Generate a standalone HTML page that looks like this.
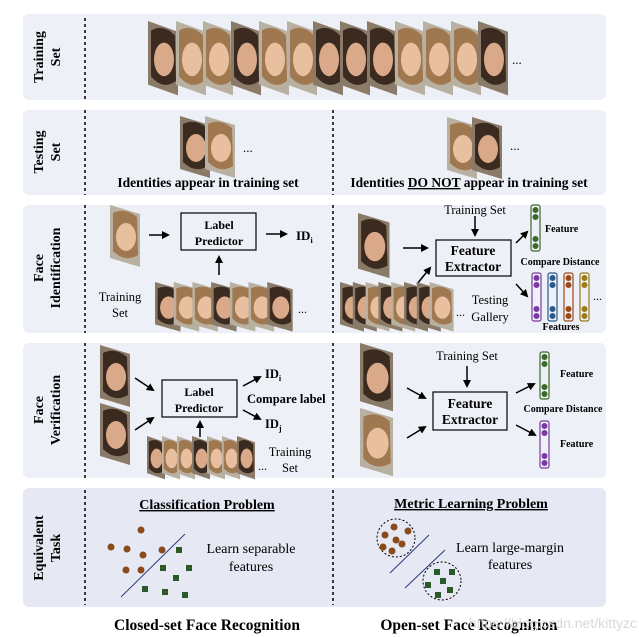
<!DOCTYPE html>
<html><head><meta charset="utf-8"><style>
body{margin:0;background:#fff}
svg{display:block;font-family:"Liberation Serif",serif}
.b{font-weight:bold}
</style></head><body>
<svg width="639" height="637" viewBox="0 0 639 637" xmlns="http://www.w3.org/2000/svg">
<defs>
<g id="f">
<polygon points="0,0 30,9 30,62 0,53" fill="#8a7a68"/>
<path d="M3,8 Q15,2 27,12 L28,50 Q15,58 3,46 Z" fill="#3a2a20"/>
<ellipse cx="16" cy="32" rx="10" ry="14" fill="#d9a98a"/>
</g>
<g id="g">
<polygon points="0,0 30,9 30,62 0,53" fill="#b8b0a0"/>
<path d="M3,8 Q15,2 27,12 L28,50 Q15,58 3,46 Z" fill="#a07850"/>
<ellipse cx="16" cy="32" rx="10" ry="14" fill="#e8c0a0"/>
</g>
<marker id="a" markerWidth="8" markerHeight="8" refX="6" refY="4" orient="auto" markerUnits="userSpaceOnUse"><path d="M0,0 L8,4 L0,8 Z" fill="#000"/></marker>
</defs>
<g fill="#eef0f7">
<rect x="23" y="14" width="583" height="86" rx="6"/>
<rect x="23" y="110" width="583" height="85" rx="6"/>
<rect x="23" y="205" width="583" height="128" rx="6"/>
<rect x="23" y="343" width="583" height="135" rx="6"/>
<rect x="23" y="488" width="583" height="119" rx="6" fill="#e6e9f3"/>
</g>
<g stroke="#000" stroke-width="1.5" stroke-dasharray="3,3">
<line x1="85" y1="18" x2="85" y2="100"/><line x1="85" y1="110" x2="85" y2="195"/><line x1="85" y1="205" x2="85" y2="333"/><line x1="85" y1="343" x2="85" y2="478"/><line x1="85" y1="490" x2="85" y2="605"/>
<line x1="333" y1="110" x2="333" y2="195"/><line x1="333" y1="205" x2="333" y2="333"/><line x1="333" y1="343" x2="333" y2="478"/><line x1="333" y1="490" x2="333" y2="605"/>
</g>
<g class="b" font-size="14" text-anchor="middle">
<text transform="translate(43,57) rotate(-90)">Training</text><text transform="translate(60,57) rotate(-90)">Set</text>
<text transform="translate(43,152) rotate(-90)">Testing</text><text transform="translate(60,152) rotate(-90)">Set</text>
<text transform="translate(43,268) rotate(-90)">Face</text><text transform="translate(60,268) rotate(-90)">Identification</text>
<text transform="translate(43,410) rotate(-90)">Face</text><text transform="translate(60,410) rotate(-90)">Verification</text>
<text transform="translate(43,548) rotate(-90)">Equivalent</text><text transform="translate(60,548) rotate(-90)">Task</text>
</g>
<g transform="translate(0,21) scale(1,1.2)">
<use href="#f" x="148"/><use href="#g" x="176"/><use href="#g" x="203"/><use href="#f" x="231"/><use href="#g" x="259"/><use href="#g" x="287"/><use href="#f" x="313"/><use href="#f" x="340"/><use href="#f" x="367"/><use href="#g" x="395"/><use href="#g" x="423"/><use href="#g" x="451"/><use href="#f" x="478"/>
</g>
<text x="512" y="64" font-size="13">...</text>
<use href="#f" x="180" y="116"/><use href="#g" x="205" y="116"/>
<text x="243" y="152" font-size="13">...</text>
<use href="#g" x="447" y="117"/><use href="#f" x="472" y="117"/>
<text x="510" y="150" font-size="13">...</text>
<g class="b" font-size="13.5" text-anchor="middle">
<text x="208" y="187">Identities appear in training set</text>
<text x="469" y="187">Identities <tspan text-decoration="underline">DO NOT</tspan> appear in training set</text>
</g>
<use href="#g" x="110" y="205"/>
<g stroke="#000" stroke-width="1.5" marker-end="url(#a)" fill="none">
<line x1="149" y1="235" x2="168" y2="235"/><line x1="266" y1="234" x2="286" y2="234"/><line x1="219" y1="275" x2="219" y2="257"/>
<line x1="403" y1="248" x2="427" y2="248"/><line x1="475" y1="216" x2="475" y2="235"/><line x1="417" y1="284" x2="430" y2="268"/>
<line x1="516" y1="243" x2="527" y2="232"/><line x1="516" y1="284" x2="527" y2="296"/>
<line x1="135" y1="378" x2="153" y2="390"/><line x1="135" y1="430" x2="153" y2="418"/>
<line x1="243" y1="386" x2="260" y2="377"/><line x1="243" y1="410" x2="260" y2="419"/><line x1="200" y1="437" x2="200" y2="422"/>
<line x1="407" y1="388" x2="425" y2="398"/><line x1="407" y1="438" x2="425" y2="427"/><line x1="467" y1="366" x2="467" y2="386"/>
<line x1="516" y1="393" x2="534" y2="384"/><line x1="516" y1="425" x2="535" y2="435"/>
</g>
<rect x="181" y="213" width="75" height="37" fill="none" stroke="#000" stroke-width="1.2"/>
<g class="b" font-size="12" text-anchor="middle"><text x="219" y="229">Label</text><text x="219" y="245">Predictor</text></g>
<text x="296" y="240" class="b" font-size="13">ID<tspan font-size="8" dy="3">i</tspan></text>
<g font-size="12.5" text-anchor="middle"><text x="120" y="301">Training</text><text x="120" y="317">Set</text></g>
<g transform="translate(155,282) scale(0.85,0.8)"><use href="#f" x="0"/><use href="#g" x="22"/><use href="#g" x="44"/><use href="#f" x="66"/><use href="#g" x="88"/><use href="#g" x="110"/><use href="#f" x="132"/></g>
<text x="298" y="313" font-size="12">...</text>
<g transform="translate(358,213) scale(1.05,1.05)"><use href="#f"/></g>
<rect x="436" y="240" width="75" height="36" fill="none" stroke="#000" stroke-width="1.2"/>
<g class="b" font-size="13.5" text-anchor="middle"><text x="473" y="255">Feature</text><text x="473" y="271">Extractor</text></g>
<text x="475" y="214" font-size="12.5" text-anchor="middle">Training Set</text>
<g transform="translate(340,282) scale(0.8,0.8)"><use href="#f" x="0"/><use href="#f" x="16"/><use href="#g" x="32"/><use href="#f" x="48"/><use href="#g" x="64"/><use href="#f" x="80"/><use href="#f" x="96"/><use href="#g" x="112"/></g>
<text x="456" y="316" font-size="12">...</text>
<g font-size="12.5" text-anchor="middle"><text x="490" y="304">Testing</text><text x="490" y="321">Gallery</text></g>
<g stroke-width="1.2">
<rect x="531" y="205" width="9" height="46" rx="2" fill="none" stroke="#3a6a2a"/>
<rect x="532" y="273" width="9" height="48" rx="2" fill="none" stroke="#7a3aa0"/>
<rect x="548" y="273" width="9" height="48" rx="2" fill="none" stroke="#2a5a8a"/>
<rect x="564" y="273" width="9" height="48" rx="2" fill="none" stroke="#9a4a1a"/>
<rect x="580" y="273" width="9" height="48" rx="2" fill="none" stroke="#9a7a1a"/>
</g>
<g fill="#3a6a2a"><circle cx="535.5" cy="210" r="3"/><circle cx="535.5" cy="217" r="3"/><circle cx="535.5" cy="239" r="3"/><circle cx="535.5" cy="246" r="3"/></g>
<g fill="#7a3aa0"><circle cx="536.5" cy="278" r="3"/><circle cx="536.5" cy="285" r="3"/><circle cx="536.5" cy="309" r="3"/><circle cx="536.5" cy="316" r="3"/></g>
<g fill="#2a5a8a"><circle cx="552.5" cy="278" r="3"/><circle cx="552.5" cy="285" r="3"/><circle cx="552.5" cy="309" r="3"/><circle cx="552.5" cy="316" r="3"/></g>
<g fill="#9a4a1a"><circle cx="568.5" cy="278" r="3"/><circle cx="568.5" cy="285" r="3"/><circle cx="568.5" cy="309" r="3"/><circle cx="568.5" cy="316" r="3"/></g>
<g fill="#9a7a1a"><circle cx="584.5" cy="278" r="3"/><circle cx="584.5" cy="285" r="3"/><circle cx="584.5" cy="309" r="3"/><circle cx="584.5" cy="316" r="3"/></g>
<text x="545" y="232" class="b" font-size="10">Feature</text>
<text x="560" y="265" class="b" font-size="10" text-anchor="middle">Compare Distance</text>
<text x="561" y="330" class="b" font-size="10" text-anchor="middle">Features</text>
<text x="593" y="300" font-size="12">...</text>
<use href="#f" x="100" y="345"/><use href="#f" x="100" y="403"/>
<rect x="162" y="380" width="75" height="37" fill="none" stroke="#000" stroke-width="1.2"/>
<g class="b" font-size="12" text-anchor="middle"><text x="199" y="396">Label</text><text x="199" y="412">Predictor</text></g>
<text x="265" y="378" class="b" font-size="12.5">ID<tspan font-size="8" dy="3">i</tspan></text>
<text x="247" y="403" class="b" font-size="12.5">Compare label</text>
<text x="265" y="428" class="b" font-size="12.5">ID<tspan font-size="8" dy="3">j</tspan></text>
<g transform="translate(147,436) scale(0.6,0.7)"><use href="#f" x="0"/><use href="#g" x="25"/><use href="#g" x="50"/><use href="#f" x="75"/><use href="#g" x="100"/><use href="#g" x="125"/><use href="#f" x="150"/></g>
<text x="258" y="470" font-size="12">...</text>
<g font-size="12.5" text-anchor="middle"><text x="290" y="456">Training</text><text x="290" y="472">Set</text></g>
<g transform="translate(360,343) scale(1.1,1.1)"><use href="#f"/></g>
<g transform="translate(360,408) scale(1.1,1.1)"><use href="#g"/></g>
<rect x="433" y="392" width="74" height="38" fill="none" stroke="#000" stroke-width="1.2"/>
<g class="b" font-size="13.5" text-anchor="middle"><text x="470" y="408">Feature</text><text x="470" y="424">Extractor</text></g>
<text x="467" y="360" font-size="12.5" text-anchor="middle">Training Set</text>
<rect x="540" y="352" width="9" height="47" rx="2" fill="none" stroke="#3a6a2a" stroke-width="1.2"/>
<rect x="540" y="421" width="9" height="47" rx="2" fill="none" stroke="#7a3aa0" stroke-width="1.2"/>
<g fill="#3a6a2a"><circle cx="544.5" cy="357" r="3"/><circle cx="544.5" cy="364" r="3"/><circle cx="544.5" cy="387" r="3"/><circle cx="544.5" cy="394" r="3"/></g>
<g fill="#7a3aa0"><circle cx="544.5" cy="426" r="3"/><circle cx="544.5" cy="433" r="3"/><circle cx="544.5" cy="456" r="3"/><circle cx="544.5" cy="463" r="3"/></g>
<text x="560" y="377" class="b" font-size="10">Feature</text>
<text x="563" y="412" class="b" font-size="10" text-anchor="middle">Compare Distance</text>
<text x="560" y="447" class="b" font-size="10">Feature</text>
<g class="b" font-size="14" text-anchor="middle" text-decoration="underline">
<text x="207" y="509">Classification Problem</text><text x="471" y="508">Metric Learning Problem</text></g>
<line x1="121" y1="597" x2="185" y2="534" stroke="#2a3a7a" stroke-width="1"/>
<g fill="#8a4a1a"><circle cx="141" cy="530" r="3.5"/><circle cx="111" cy="547" r="3.5"/><circle cx="127" cy="549" r="3.5"/><circle cx="143" cy="555" r="3.5"/><circle cx="162" cy="550" r="3.5"/><circle cx="126" cy="570" r="3.5"/><circle cx="141" cy="570" r="3.5"/></g>
<g fill="#2a5a2a"><rect x="176" y="547" width="6" height="6"/><rect x="160" y="565" width="6" height="6"/><rect x="186" y="565" width="6" height="6"/><rect x="173" y="575" width="6" height="6"/><rect x="142" y="586" width="6" height="6"/><rect x="162" y="589" width="6" height="6"/><rect x="182" y="592" width="6" height="6"/></g>
<g font-size="14" text-anchor="middle"><text x="251" y="553">Learn separable</text><text x="251" y="571">features</text></g>
<g fill="none" stroke="#000" stroke-dasharray="2,2"><circle cx="396" cy="538" r="19"/><circle cx="442" cy="581" r="19"/></g>
<line x1="390" y1="573" x2="429" y2="535" stroke="#2a3a7a"/><line x1="405" y1="588" x2="445" y2="550" stroke="#2a3a7a"/>
<g fill="#8a4a1a"><circle cx="394" cy="527" r="3.5"/><circle cx="408" cy="531" r="3.5"/><circle cx="385" cy="535" r="3.5"/><circle cx="396" cy="540" r="3.5"/><circle cx="402" cy="544" r="3.5"/><circle cx="383" cy="547" r="3.5"/><circle cx="392" cy="551" r="3.5"/></g>
<g fill="#2a5a2a"><rect x="434" y="569" width="6" height="6"/><rect x="449" y="569" width="6" height="6"/><rect x="440" y="578" width="6" height="6"/><rect x="425" y="582" width="6" height="6"/><rect x="447" y="587" width="6" height="6"/><rect x="435" y="592" width="6" height="6"/></g>
<g font-size="14" text-anchor="middle"><text x="510" y="552">Learn large-margin</text><text x="510" y="569">features</text></g>
<g class="b" font-size="15.5" text-anchor="middle"><text x="207" y="630">Closed-set Face Recognition</text><text x="469" y="630">Open-set Face Recognition</text></g>
<text x="637" y="628" font-family="Liberation Sans,sans-serif" font-size="14" fill="#d8d8d8" text-anchor="end">https://blog.csdn.net/kittyzc</text>
</svg>
</body></html>
